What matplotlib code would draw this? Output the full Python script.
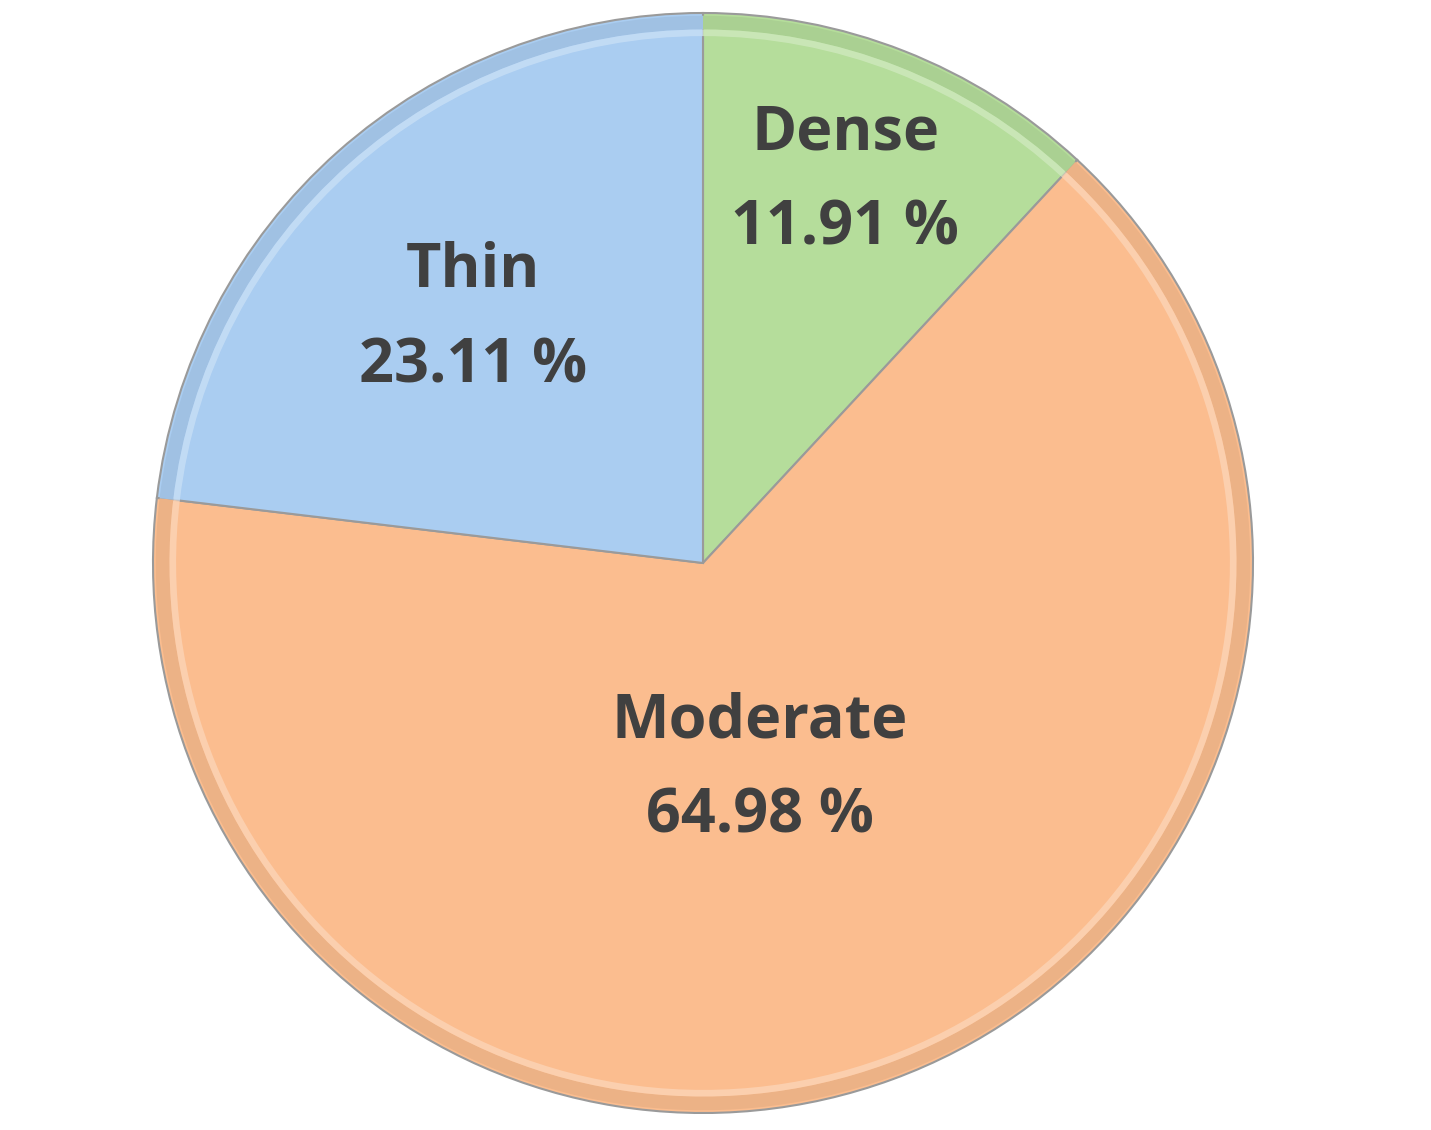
import numpy as np
import matplotlib
matplotlib.use("Agg")
import matplotlib.pyplot as plt

# data
labels = ["Dense", "Moderate", "Thin"]
shares = [11.91, 64.98, 23.11]
colors = ["#b5dd9b", "#fbbd8f", "#aacdf1"]

# text placement: radial distance (fraction of radius) and angle nudge (deg)
text_r = [0.74, 0.39, 0.61]
text_dang = [1.0, -4.7, 1.7]

plt.rcParams['font.family'] = ['Open Sans', 'DejaVu Sans']

fig = plt.figure(figsize=(14.31, 11.30), dpi=100)
ax = fig.add_axes([0, 0, 1, 1])

wedges, _ = ax.pie(shares, colors=colors, startangle=90, counterclock=False,
                   radius=1.0, center=(0, 0),
                   wedgeprops=dict(edgecolor="#9a9a9a", linewidth=1.5))

# crude bevel: darker rim then a lighter band just inside
for w, c in zip(wedges, colors):
    c = matplotlib.colors.to_rgb(c)
    rim = [min(1, v * 0.94) for v in c]
    light = [min(1, v + (1 - v) * 0.35) for v in c]
    ax.add_patch(matplotlib.patches.Wedge((0, 0), 0.995, w.theta1, w.theta2,
                                          width=0.025, facecolor=rim, edgecolor='none'))
    ax.add_patch(matplotlib.patches.Wedge((0, 0), 0.97, w.theta1, w.theta2,
                                          width=0.012, facecolor=light, edgecolor='none',
                                          alpha=0.8))

for w, lab, val, r, da in zip(wedges, labels, shares, text_r, text_dang):
    ang = np.deg2rad((w.theta1 + w.theta2) / 2 + da)
    x, y = r * np.cos(ang), r * np.sin(ang)
    ax.text(x, y, f"{lab}\n{val:.2f} %", ha='center', va='center',
            fontsize=44, fontweight='bold', color="#404040", linespacing=1.75)

ax.set_xlim(-703 / 550, (1431 - 703) / 550)
ax.set_ylim(-(1130 - 563) / 550, 563 / 550)
ax.set_aspect('equal')
ax.axis('off')

fig.savefig("out.png", dpi=100)
